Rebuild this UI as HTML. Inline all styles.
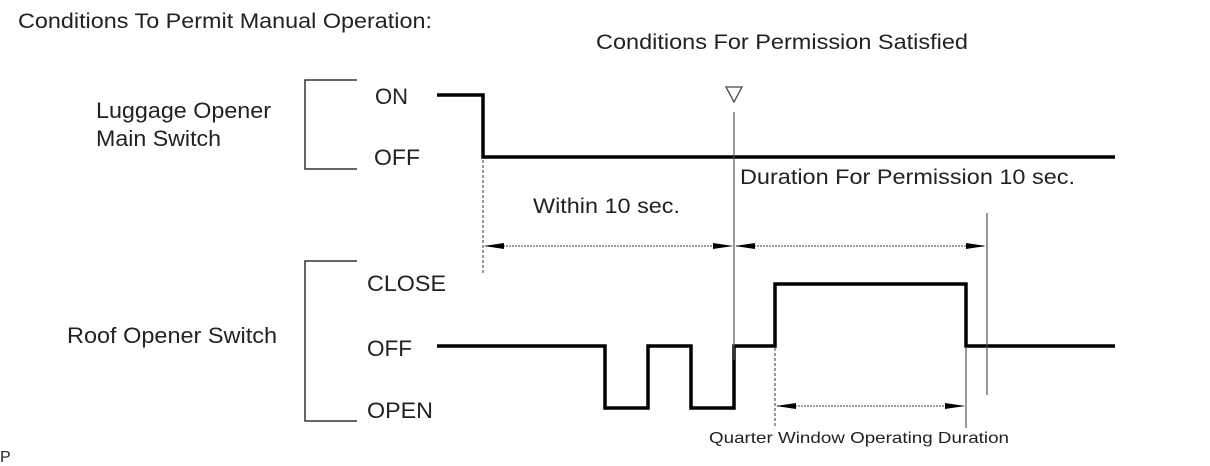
<!DOCTYPE html>
<html><head><meta charset="utf-8"><style>
html,body{margin:0;padding:0;background:#fff;}
svg{display:block;}
text{font-family:"Liberation Sans",Arial,sans-serif;fill:#222;}
</style></head><body>
<svg width="1210" height="466" viewBox="0 0 1210 466" xmlns="http://www.w3.org/2000/svg">
<defs>
<marker id="a" markerWidth="20" markerHeight="8" refX="19" refY="4" orient="auto" markerUnits="userSpaceOnUse">
<path d="M0,1 L20,4 L0,7 Z" fill="#000"/></marker>
<marker id="b" markerWidth="20" markerHeight="8" refX="1" refY="4" orient="auto" markerUnits="userSpaceOnUse">
<path d="M20,1 L0,4 L20,7 Z" fill="#000"/></marker>
</defs>
<g lengthAdjust="spacingAndGlyphs">
<text x="18" y="28" font-size="21" textLength="414" lengthAdjust="spacingAndGlyphs">Conditions To Permit Manual Operation:</text>
<text x="596" y="49" font-size="21" textLength="372" lengthAdjust="spacingAndGlyphs">Conditions For Permission Satisfied</text>
<text x="96" y="118" font-size="22" textLength="175" lengthAdjust="spacingAndGlyphs">Luggage Opener</text>
<text x="96" y="146" font-size="22" textLength="125" lengthAdjust="spacingAndGlyphs">Main Switch</text>
<text x="67" y="343" font-size="22" textLength="210" lengthAdjust="spacingAndGlyphs">Roof Opener Switch</text>
<text x="375" y="104" font-size="22" textLength="33" lengthAdjust="spacingAndGlyphs">ON</text>
<text x="374" y="165" font-size="22" textLength="46" lengthAdjust="spacingAndGlyphs">OFF</text>
<text x="367" y="291" font-size="22" textLength="79" lengthAdjust="spacingAndGlyphs">CLOSE</text>
<text x="367" y="356" font-size="22" textLength="45" lengthAdjust="spacingAndGlyphs">OFF</text>
<text x="367" y="418" font-size="22" textLength="66" lengthAdjust="spacingAndGlyphs">OPEN</text>
<text x="533" y="213" font-size="21" textLength="147" lengthAdjust="spacingAndGlyphs">Within 10 sec.</text>
<text x="740" y="184" font-size="21" textLength="335" lengthAdjust="spacingAndGlyphs">Duration For Permission 10 sec.</text>
<text x="709" y="443" font-size="16" textLength="300" lengthAdjust="spacingAndGlyphs">Quarter Window Operating Duration</text>
<text x="0" y="462" font-size="16">P</text>
</g>
<g fill="none" stroke="#333" stroke-width="1.5">
<path d="M357,80 H305 V169 H357"/>
<path d="M357,261 H305 V421 H357"/>
</g>
<g fill="none" stroke="#000" stroke-width="3.5">
<path d="M437,95 H483 V157 H1115"/>
<path d="M437,346 H605 V408 H648 V346 H691 V408 H734 V346 H775 V284 H966 V346 H1115"/>
</g>
<g stroke="#555" stroke-width="1.2" fill="none">
<path d="M734,112 V360"/>
<path d="M987,213 V395"/>
<path d="M483,160 V275" stroke-dasharray="3,2"/>
<path d="M775,348 V428" stroke-dasharray="3,2"/>
<path d="M966,348 V428"/>
</g>
<path d="M726,87 H742 L734,102 Z" fill="none" stroke="#444" stroke-width="1.3"/>
<g stroke="#666" stroke-width="1.2" stroke-dasharray="2,1">
<line x1="485" y1="246" x2="732" y2="246" marker-start="url(#b)" marker-end="url(#a)"/>
<line x1="736" y1="246" x2="985" y2="246" marker-start="url(#b)" marker-end="url(#a)"/>
<line x1="777" y1="406" x2="964" y2="406" marker-start="url(#b)" marker-end="url(#a)"/>
</g>
</svg>
</body></html>
